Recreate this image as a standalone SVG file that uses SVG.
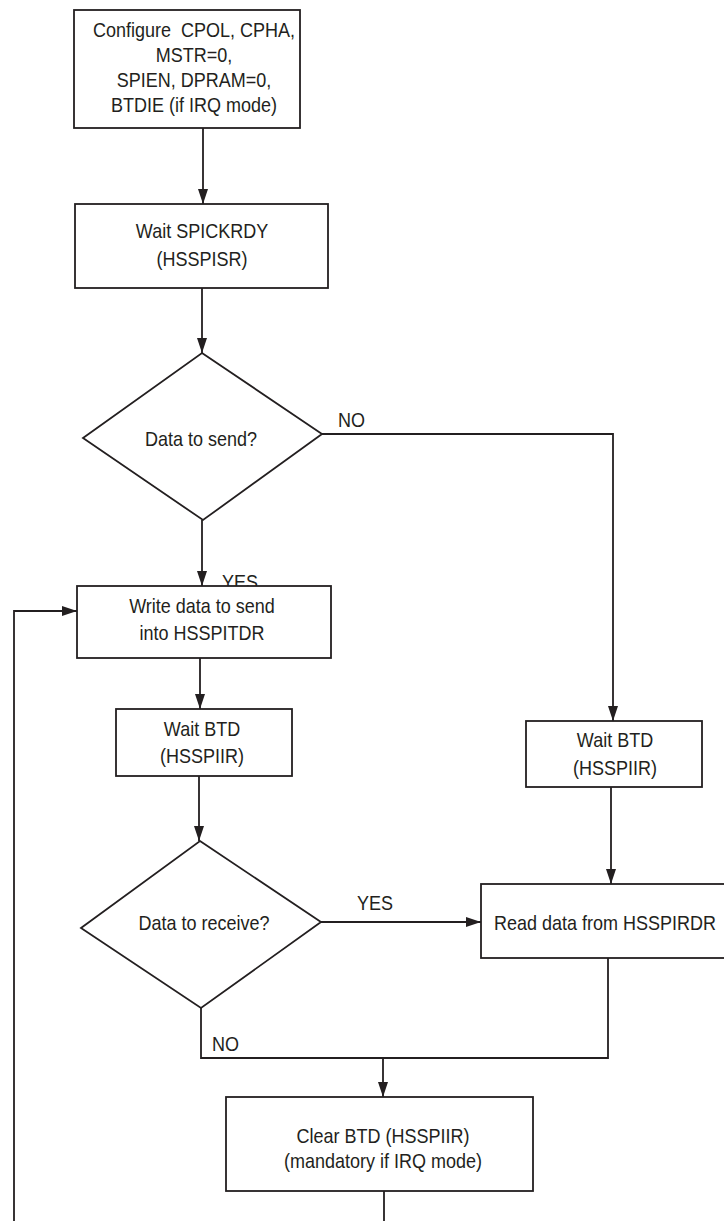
<svg xmlns="http://www.w3.org/2000/svg" width="724" height="1221" viewBox="0 0 724 1221">
<style>
.box{fill:#fff;stroke:#231f20;stroke-width:1.8}
.ln{fill:none;stroke:#231f20;stroke-width:1.8}
.arr{marker-end:url(#ah)}
text{font-family:"Liberation Sans",Arial,sans-serif;font-size:20px;fill:#231f20;white-space:pre;transform-box:fill-box;transform-origin:center;transform:scaleX(0.9)}
.c{text-anchor:middle}
.l{transform-origin:left center}
</style>
<defs>
<marker id="ah" markerUnits="userSpaceOnUse" markerWidth="15" markerHeight="10" refX="15" refY="5" orient="auto">
<path d="M0,0 L15,5 L0,10 z" fill="#231f20"/>
</marker>
</defs>
<rect width="724" height="1221" fill="#fff"/>
<g id="connectors">
<line class="ln arr" x1="203" y1="128" x2="203" y2="204"/>
<line class="ln arr" x1="202" y1="288" x2="202" y2="353"/>
<line class="ln arr" x1="202" y1="520" x2="202" y2="586"/>
<polyline class="ln arr" points="322,434 613,434 613,721"/>
<line class="ln arr" x1="200" y1="658" x2="200" y2="709"/>
<line class="ln arr" x1="199" y1="776" x2="199" y2="841"/>
<line class="ln arr" x1="321" y1="922" x2="481" y2="922"/>
<line class="ln arr" x1="611" y1="787" x2="611" y2="884"/>
<polyline class="ln" points="201,1008 201,1058 608,1058 608,958"/>
<line class="ln arr" x1="383" y1="1058" x2="383" y2="1097"/>
<line class="ln" x1="384" y1="1191" x2="384" y2="1221"/>
<polyline class="ln arr" points="14,1221 14,611 77,611"/>
<text class="l" x="338" y="427">NO</text>
<text class="l" x="222" y="589">YES</text>
<text class="l" x="357" y="910">YES</text>
<text class="l" x="212" y="1051">NO</text>
</g>
<g id="configure">
<rect class="box" x="74" y="10" width="226" height="118"/>
<text class="c" x="194" y="37">Configure  CPOL, CPHA,</text>
<text class="c" x="194" y="62">MSTR=0,</text>
<text class="c" x="194" y="87">SPIEN, DPRAM=0,</text>
<text class="c" x="194" y="112">BTDIE (if IRQ mode)</text>
</g>
<g id="wait-spickrdy">
<rect class="box" x="75" y="204" width="253" height="84"/>
<text class="c" x="202" y="238">Wait SPICKRDY</text>
<text class="c" x="202" y="266">(HSSPISR)</text>
</g>
<g id="data-to-send">
<polygon class="box" points="202,353 322,434 203,520 83,438"/>
<text class="c" x="201" y="446">Data to send?</text>
</g>
<g id="write-data">
<rect class="box" x="77" y="586" width="254" height="72"/>
<text class="c" x="202" y="613">Write data to send</text>
<text class="c" x="202" y="640">into HSSPITDR</text>
</g>
<g id="wait-btd-left">
<rect class="box" x="116" y="709" width="176" height="67"/>
<text class="c" x="202" y="736">Wait BTD</text>
<text class="c" x="202" y="763">(HSSPIIR)</text>
</g>
<g id="wait-btd-right">
<rect class="box" x="526" y="721" width="176" height="66"/>
<text class="c" x="615" y="747">Wait BTD</text>
<text class="c" x="615" y="775">(HSSPIIR)</text>
</g>
<g id="data-to-receive">
<polygon class="box" points="200,841 321,922 201,1008 81,928"/>
<text class="c" x="204" y="930">Data to receive?</text>
</g>
<g id="read-data">
<rect class="box" x="481" y="884" width="260" height="74"/>
<text class="l" x="494" y="930">Read data from HSSPIRDR</text>
</g>
<g id="clear-btd">
<rect class="box" x="226" y="1097" width="307" height="94"/>
<text class="c" x="383" y="1143">Clear BTD (HSSPIIR)</text>
<text class="c" x="383" y="1168">(mandatory if IRQ mode)</text>
</g>
</svg>
